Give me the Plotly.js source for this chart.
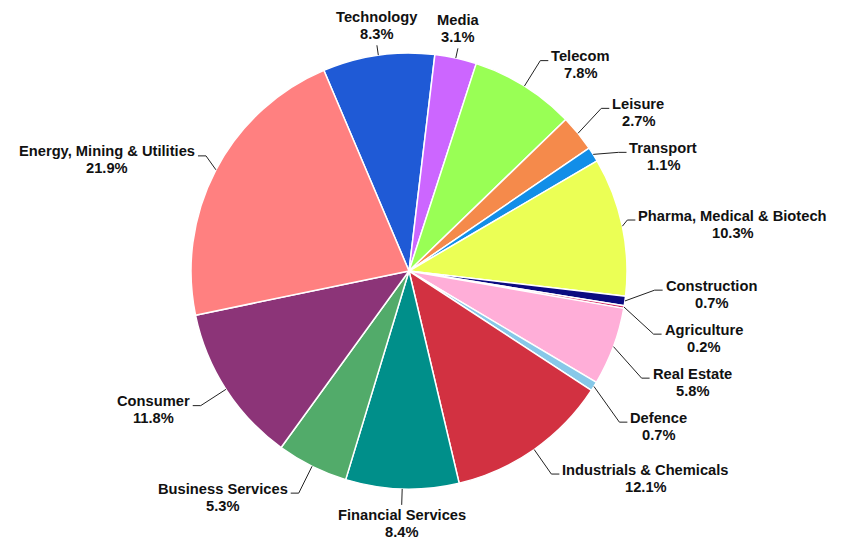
<!DOCTYPE html>
<html>
<head>
<meta charset="utf-8">
<script src="https://cdn.plot.ly/plotly-3.0.1.min.js"></script>
<style>html,body{margin:0;padding:0;background:#fff;}#chart{width:845px;height:541px;}</style>
</head>
<body>
<div id="chart"></div>
<script>
const categories = ["Technology", "Media", "Telecom", "Leisure", "Transport",
  "Pharma, Medical & Biotech", "Construction", "Agriculture", "Real Estate", "Defence",
  "Industrials & Chemicals", "Financial Services", "Business Services", "Consumer",
  "Energy, Mining & Utilities"];
const values = [8.3, 3.1, 7.8, 2.7, 1.1, 10.3, 0.7, 0.2, 5.8, 0.7, 12.1, 8.4, 5.3, 11.8, 21.9];
const colors = ["#1f5ad6", "#cc66ff", "#99ff55", "#f58a4b", "#128ee8",
  "#ebff55", "#0b0b80", "#d6336c", "#ffaed8", "#87c8e8",
  "#d23141", "#008f8a", "#52ab6a", "#8c3478", "#ff8080"];

const W = 845, H = 541;
const CX = 409, CY = 271, R = 218;
const ROT = -23;
const FS = 14.7, LH = 17;
const EDGE = 19;
const FONTFAM = 'Liberation Sans';
const px = x => x / W;
const py = y => 1 - y / H;

const ctx = document.createElement('canvas').getContext('2d');
ctx.font = 'bold ' + FS + 'px "' + FONTFAM + '"';
const tw = s => ctx.measureText(s).width;

const total = values.reduce((a, b) => a + b, 0);
const slices = [];
let cum = 0;
values.forEach((v, i) => {
  const start = ROT + 360 * cum / total;
  const span = 360 * v / total;
  const mid = (start + span / 2) * Math.PI / 180;
  cum += v;
  slices.push({i, mid, s: Math.sin(mid), c: Math.cos(mid),
    pct: (100 * v / total).toFixed(1) + '%'});
});

const shapes = [];
const annotations = [];
const font = {family: FONTFAM + ', Arial, sans-serif', size: FS, color: '#111'};
const lineStyle = {color: '#222', width: 1};

function addLabel(s, cx, y1) {
  [categories[s.i], s.pct].forEach((t, k) => {
    annotations.push({xref: 'paper', yref: 'paper', x: px(cx), y: py(y1 + k * LH),
      xanchor: 'center', yanchor: 'middle', text: '<b>' + t + '</b>',
      showarrow: false, font, borderpad: 0});
  });
}

const sides = {left: [], right: []};
slices.forEach(s => {
  const ex = CX + R * s.s, ey = CY - R * s.c;
  s.ex = ex; s.ey = ey;
  if (Math.abs(s.s) < 0.3) {
    const top = s.c > 0;
    const L = top ? 10 : 16;
    const qx = CX + (R + L) * s.s, qy = CY - (R + L) * s.c;
    shapes.push({type: 'path', xref: 'paper', yref: 'paper',
      path: `M ${px(ex)},${py(ey)} L ${px(qx)},${py(qy)}`, line: lineStyle});
    const y1 = top ? qy - 11 - LH : qy + 10;
    addLabel(s, qx, y1);
  } else {
    s.y = CY - (R + 30) * s.c;
    (s.s > 0 ? sides.right : sides.left).push(s);
  }
});

const GAP = 44;
['left', 'right'].forEach(k => {
  const arr = sides[k].sort((a, b) => a.y - b.y);
  for (let it = 0; it < 400; it++) {
    for (let j = 1; j < arr.length; j++) {
      const d = arr[j].y - arr[j - 1].y;
      if (d < GAP) {
        const sh = GAP - d;
        arr[j - 1].y -= sh * 0.3;
        arr[j].y += sh * 0.7;
      }
    }
  }
  const dir = k === 'right' ? 1 : -1;
  arr.forEach(s => {
    const wmax = Math.max(tw(categories[s.i]), tw(s.pct));
    let bx = CX + (R + 30) * s.s;
    if (dir > 0) bx = Math.max(bx, s.ex + 5); else bx = Math.min(bx, s.ex - 5);
    // keep the label inside the picture
    if (dir > 0) {
      const maxStart = W - EDGE - wmax;
      if (bx + 11 > maxStart) bx = Math.max(maxStart - 11, s.ex + 5);
    } else {
      const minStart = EDGE + wmax;
      if (bx - 11 < minStart) bx = Math.min(minStart + 11, s.ex - 5);
    }
    const hx = bx + dir * 8;
    shapes.push({type: 'path', xref: 'paper', yref: 'paper',
      path: `M ${px(s.ex)},${py(s.ey)} L ${px(bx)},${py(s.y)} L ${px(hx)},${py(s.y)}`,
      line: lineStyle});
    const cx = hx + dir * (3 + wmax / 2);
    addLabel(s, cx, s.y - 4.5);
  });
});

const trace = {
  type: 'pie',
  labels: categories,
  values: values,
  sort: false,
  direction: 'clockwise',
  rotation: ROT,
  marker: {colors: colors, line: {color: '#ffffff', width: 1.5}},
  textinfo: 'none',
  hoverinfo: 'label+percent',
  showlegend: false,
  domain: {x: [px(CX - R), px(CX + R)], y: [py(CY + R), py(CY - R)]}
};

Plotly.newPlot('chart', [trace], {
  width: W, height: H,
  margin: {l: 0, r: 0, t: 0, b: 0},
  paper_bgcolor: '#ffffff',
  showlegend: false,
  shapes: shapes,
  annotations: annotations
}, {displayModeBar: false, staticPlot: true});
</script>
</body>
</html>
